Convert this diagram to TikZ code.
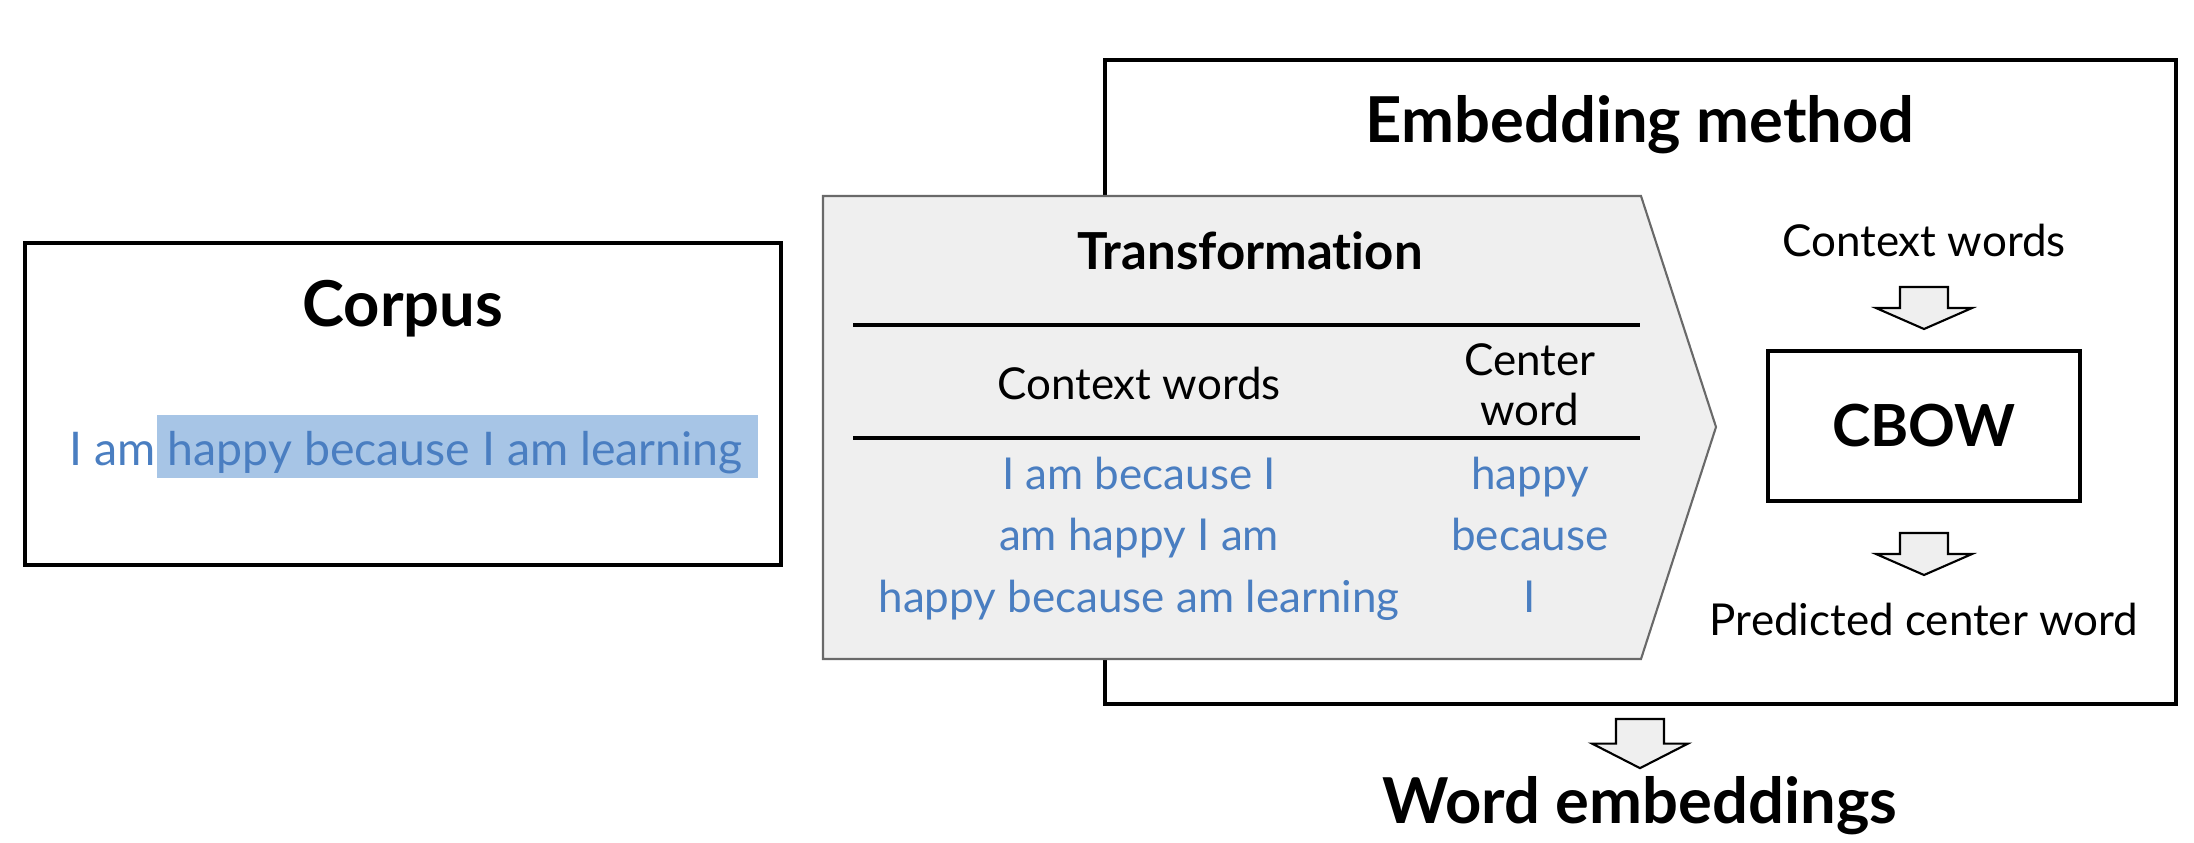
\documentclass[tikz,border=0pt]{standalone}
\usepackage{fontspec}
\setmainfont{Lato}[Ligatures=NoCommon]
\usetikzlibrary{calc}

\definecolor{wordblue}{RGB}{74,126,193}
\definecolor{hilite}{RGB}{167,197,230}
\definecolor{paleGray}{RGB}{239,239,239}
\definecolor{edgeGray}{RGB}{105,105,105}

\tikzset{
  bigtitle/.style={font=\fontsize{18}{20}\selectfont\bfseries,anchor=base},
  midtitle/.style={font=\fontsize{14.5}{16}\selectfont\bfseries,anchor=base},
  plain/.style={font=\fontsize{12.5}{15}\selectfont,anchor=base},
  blueword/.style={plain,text=wordblue},
  frame/.style={draw=black,line width=1.1pt},
  blockdown/.pic={\draw[line width=0.6pt,fill=paleGray,line join=miter]
    (-24,0) -- (24,0) -- (24,21) -- (48,21) -- (0,42) -- (-48,21) -- (-24,21) -- cycle;}
}

\begin{document}
\begin{tikzpicture}[x=0.01cm,y=-0.01cm]
\useasboundingbox (0,0) rectangle (2194,842);

% corpus
\draw[frame] (25,243) rectangle (781,565);
\node[bigtitle] (corpus) at (403,326) {Corpus};
\fill[hilite] (157,415) rectangle (758,478);
\node[blueword,font=\fontsize{13.2}{16}\selectfont,anchor=base west,inner sep=0pt] (sentence) at (69,465) {I am happy because I am learning};

% embedding method
\draw[frame] (1105,60) rectangle (2176,704);
\node[bigtitle] (embed) at (1640,142) {Embedding method};

% transformation
\draw[draw=edgeGray,fill=paleGray,line width=0.6pt]
  (823,196) -- (1641,196) -- (1716,427) -- (1641,659) -- (823,659) -- cycle;
\node[midtitle] (trans) at (1250,269) {Transformation};
\draw[line width=0.9pt] (853,325) -- (1640,325);
\draw[line width=0.9pt] (853,438) -- (1640,438);
\node[plain] (ctxhead) at (1139,399) {Context words};
\node[plain] (centerhead) at (1530,375) {Center};
\node[plain] (wordhead) at (1530,425) {word};
\node[blueword] (ctx1) at (1139,489) {I am because I};
\node[blueword] (ctx2) at (1139,550) {am happy I am};
\node[blueword] (ctx3) at (1139,612) {happy because am learning};
\node[blueword] (cw1) at (1530,489) {happy};
\node[blueword] (cw2) at (1530,550) {because};
\node[blueword] (cw3) at (1530,612) {I};

% cbow side
\node[plain] (ctxin) at (1924,256) {Context words};
\pic at (1924,287) {blockdown};
\draw[line width=0.9pt] (1768,351) rectangle (2080,501);
\node[font=\fontsize{16.5}{18}\selectfont\bfseries] (cbow) at (1924,426) {CBOW};
\pic at (1924,533) {blockdown};
\node[plain] (pred) at (1924,635) {Predicted center word};

% output
\pic[yscale=1.17] at (1640,719) {blockdown};
\node[bigtitle] (wordemb) at (1640,823) {Word embeddings};
\end{tikzpicture}
\end{document}
